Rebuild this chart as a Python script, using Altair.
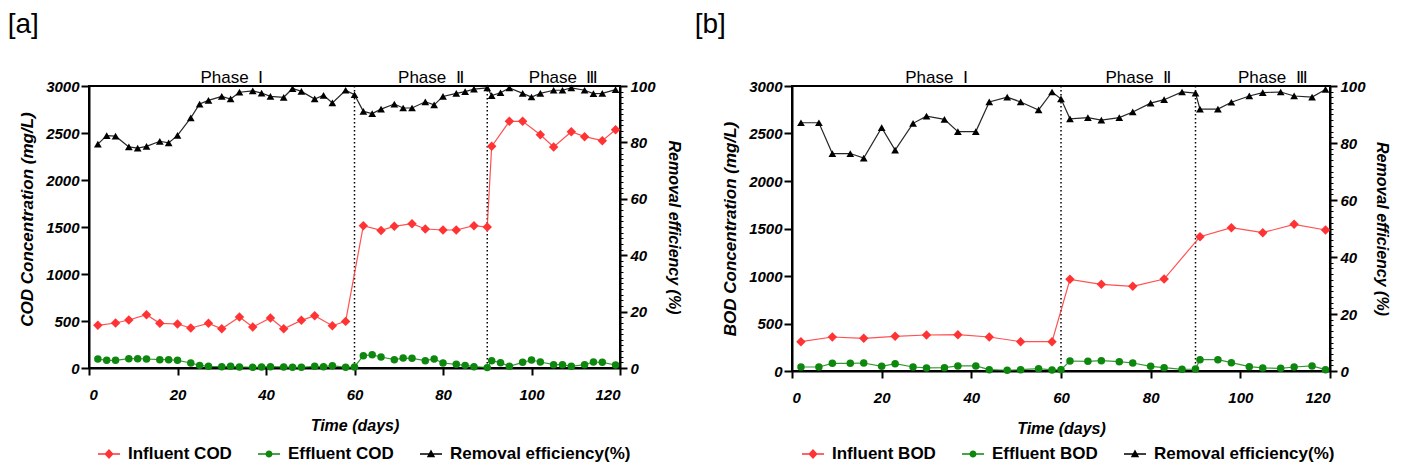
import altair as alt
import pandas as pd

# ---------------- Panel [a] : COD ----------------
a_inf_days = [2, 6, 9, 13, 16, 20, 23, 27, 30, 34, 37, 41, 44, 48, 51, 55, 58,
              62, 66, 69, 73, 76, 80, 83, 87, 90,
              91, 95, 98, 102, 105, 109, 112, 116, 119]
a_inf_cod = [454, 479, 511, 567, 475, 468, 426, 475, 418, 543, 436, 532, 418, 507, 557, 450, 496,
             1514, 1464, 1507, 1535, 1479, 1468, 1468, 1514, 1500,
             2358, 2624, 2624, 2482, 2351, 2514, 2461, 2418, 2535]
a_days = [2, 4, 6, 9, 11, 13, 16, 18, 20, 23, 25, 27, 30, 32, 34, 37, 39, 41, 44, 46, 48, 51, 53, 55, 58, 60,
          62, 64, 66, 69, 71, 73, 76, 78, 80, 83, 85, 87, 90,
          91, 93, 95, 98, 100, 102, 105, 107, 109, 112, 114, 116, 119]
a_eff_cod = [96, 82, 82, 99, 99, 96, 89, 89, 82, 53, 28, 18, 14, 18, 11, 7, 11, 14, 11, 7, 7, 18, 14, 25, 7, 11,
             131, 140, 117, 89, 106, 103, 78, 96, 53, 39, 28, 14, 4,
             78, 57, 18, 60, 85, 64, 35, 35, 18, 35, 64, 60, 32]
a_removal = [79.4, 82.4, 82.2, 78.4, 78.0, 78.6, 80.4, 79.8, 82.5, 88.7, 93.6, 94.9, 96.3, 95.4, 97.8, 98.3,
             97.5, 96.3, 96.0, 99.1, 98.1, 95.4, 96.7, 94.0, 98.5, 96.9,
             91.0, 90.2, 91.8, 93.6, 92.2, 92.2, 94.4, 93.3, 96.3, 97.4, 98.0, 98.9, 99.3,
             96.6, 97.6, 99.3, 97.4, 96.1, 97.4, 98.5, 98.5, 99.3, 98.5, 97.3, 97.4, 98.7]

# ---------------- Panel [b] : BOD ----------------
b_inf_days = [2, 9, 16, 23, 30, 37, 44, 51, 58, 62, 69, 76, 83, 91, 98, 105, 112, 119]
b_inf_bod = [309, 358, 344, 365, 379, 382, 358, 309, 309, 965, 912, 891, 968, 1414, 1509, 1456, 1544, 1484]
b_days = [2, 6, 9, 13, 16, 20, 23, 27, 30, 34, 37, 41, 44, 48, 51, 55, 58, 60,
          62, 66, 69, 73, 76, 80, 83, 87, 90, 91, 95, 98, 102, 105, 109, 112, 116, 119]
b_eff_bod = [42, 42, 81, 81, 84, 49, 77, 42, 32, 35, 53, 53, 14, 7, 14, 25, 11, 14,
             105, 102, 109, 98, 84, 49, 35, 18, 21, 119, 119, 88, 46, 32, 28, 42, 53, 14]
b_removal = [87.1, 87.1, 76.3, 76.3, 74.7, 85.4, 77.5, 86.9, 89.4, 88.3, 84.0, 84.0, 94.4, 96.1, 94.4, 91.6,
             97.9, 95.5, 88.5, 88.9, 88.0, 88.9, 90.9, 94.0, 95.2, 97.9, 97.5, 91.9, 91.9, 94.3, 96.5,
             97.7, 97.9, 96.5, 96.1, 98.8]

phase_edges = [0, 60, 90, 120]
phase_labels = ["Phase\u00a0 Ⅰ", "Phase\u00a0 Ⅱ", "Phase\u00a0 Ⅲ"]
x_ticks = [0, 20, 40, 60, 80, 100, 120]
conc_ticks = [0, 500, 1000, 1500, 2000, 2500, 3000]
eff_ticks = list(range(0, 101, 2))

RED, GREEN, BLACK = "#ff3333", "#0e870e", "#000000"
FONT = "Liberation Sans"

# legend symbols: short line with the marker on it (unit box -1..1)
P_LINE = "M-1,-0.07L1,-0.07L1,0.07L-1,0.07Z"
P_DIAMOND = P_LINE + "M0,-0.45L0.42,0L0,0.45L-0.42,0Z"
P_CIRCLE = P_LINE + "M0.32,0A0.32,0.32 0 1,1 -0.32,0A0.32,0.32 0 1,1 0.32,0Z"
P_TRI = P_LINE + "M0,-0.4L0.38,0.3L-0.38,0.3Z"


def make_panel(tag, name, inf_days, inf_vals, days, eff_vals, rem_vals,
               width, height, title_dx, legend_x, right_title_pad, ytitle_shift):
    s_inf, s_eff, s_rem = f"Influent {name}", f"Effluent {name}", "Removal efficiency(%)"
    domain = [s_inf, s_eff, s_rem]
    inf_df = pd.DataFrame({"day": inf_days, "value": inf_vals, "series": s_inf})
    eff_df = pd.DataFrame({"day": days, "value": eff_vals, "series": s_eff})
    rem_df = pd.DataFrame({"day": days, "value": rem_vals, "series": s_rem})
    phases = pd.DataFrame({
        "mid": [(phase_edges[i] + phase_edges[i + 1]) / 2 for i in range(3)],
        "label": phase_labels,
    })
    bounds = pd.DataFrame({"day": phase_edges[1:-1]})

    xs = alt.Scale(domain=[0, 120], nice=False, zero=False)
    xaxis = alt.Axis(values=x_ticks, title="Time (days)", tickSize=7, labelPadding=12,
                     titlePadding=15, titleFontSize=16, labelFontSize=15)
    X = alt.X("day:Q", scale=xs, axis=xaxis)

    yc = alt.Y("value:Q", scale=alt.Scale(domain=[0, 3000], nice=False),
               axis=alt.Axis(orient="left", values=conc_ticks, format="d",
                             title=f"{name} Concentration (mg/L)", titleY=height / 2 + ytitle_shift,
                             tickSize=8, labelPadding=2, titlePadding=9, titleFontSize=17,
                             labelFontSize=15))
    yr = alt.Y("value:Q", scale=alt.Scale(domain=[0, 100], nice=False),
               axis=alt.Axis(orient="right", values=eff_ticks, title="Removal efficiency (%)",
                             labelExpr="datum.value % 20 === 0 ? datum.label : ''",
                             labelOverlap=False,
                             tickSize={"condition": {"test": "datum.value % 20 === 0", "value": 7}, "value": 3},
                             tickWidth={"condition": {"test": "datum.value % 20 === 0", "value": 2}, "value": 1},
                             labelPadding=3, titlePadding=right_title_pad, titleFontSize=16,
                             labelFontSize=15))

    cscale = alt.Scale(domain=domain, range=[RED, GREEN, BLACK])
    sscale = alt.Scale(domain=domain, range=[P_DIAMOND, P_CIRCLE, P_TRI])

    leg = alt.Legend(
        title=None, orient="none", direction="horizontal", legendX=legend_x, legendY=357,
        labelFont=FONT, labelFontSize=17, labelFontWeight="bold", labelColor="black",
        labelLimit=400, symbolSize=484, labelOffset=8, columnPadding=26,
        symbolStrokeWidth=0, symbolOpacity=1,
    )

    def line(df, Y, color):
        return alt.Chart(df).mark_line(strokeWidth=1.2, opacity=0.85, color=color).encode(x=X, y=Y)

    def pts(df, Y, shape, size, color):
        return alt.Chart(df).mark_point(filled=True, opacity=1, shape=shape, size=size,
                                        color=color).encode(x=X, y=Y)

    legend_layer = alt.Chart(pd.DataFrame({"series": domain})).transform_filter("false").mark_point(
        filled=True).encode(
        color=alt.Color("series:N", scale=cscale, legend=leg),
        shape=alt.Shape("series:N", scale=sscale, legend=leg))

    left = alt.layer(line(inf_df, yc, RED), line(eff_df, yc, GREEN),
                     pts(inf_df, yc, "diamond", 90, RED), pts(eff_df, yc, "circle", 56, GREEN))
    right = alt.layer(line(rem_df, yr, BLACK), pts(rem_df, yr, "triangle-up", 60, BLACK))

    rules = alt.Chart(bounds).mark_rule(color="black", strokeDash=[1.5, 2.5], strokeWidth=1.5).encode(x=X)
    texts = alt.Chart(phases).mark_text(font=FONT, fontSize=17, baseline="alphabetic", dx=10,
                                        color="black").encode(
        x=alt.X("mid:Q", scale=xs, axis=xaxis), y=alt.value(-3), text="label:N")

    return alt.layer(rules, texts, left, right, legend_layer).resolve_scale(
        y="independent").properties(
        width=width, height=height,
        title=alt.TitleParams(tag, anchor="start", frame="bounds", fontSize=28, fontWeight="normal",
                              font=FONT, color="black", dx=title_dx, offset=30))


pa = make_panel("[a]", "COD", a_inf_days, a_inf_cod, a_days, a_eff_cod, a_removal,
                531, 282, -11, 9, 10, -8)
pb = make_panel("[b]", "BOD", b_inf_days, b_inf_bod, b_days, b_eff_bod, b_removal,
                538, 285, -27, 10, 8, 0)

chart = alt.hconcat(pa, pb, spacing=10).resolve_scale(
    color="independent", shape="independent"
).resolve_legend(color="independent", shape="independent").configure_view(
    stroke="black", strokeWidth=2
).configure_axis(
    grid=False, domainColor="black", domainWidth=2, tickColor="black", tickWidth=2,
    labelColor="black", titleColor="black", labelFont=FONT, titleFont=FONT,
    labelFontWeight="bold", labelFontStyle="italic", titleFontWeight="bold", titleFontStyle="italic",
).properties(padding={"left": -2, "top": 2, "right": 0, "bottom": 0}, background="white")

chart.save("out.html", embed_options={"renderer": "svg", "actions": False})
